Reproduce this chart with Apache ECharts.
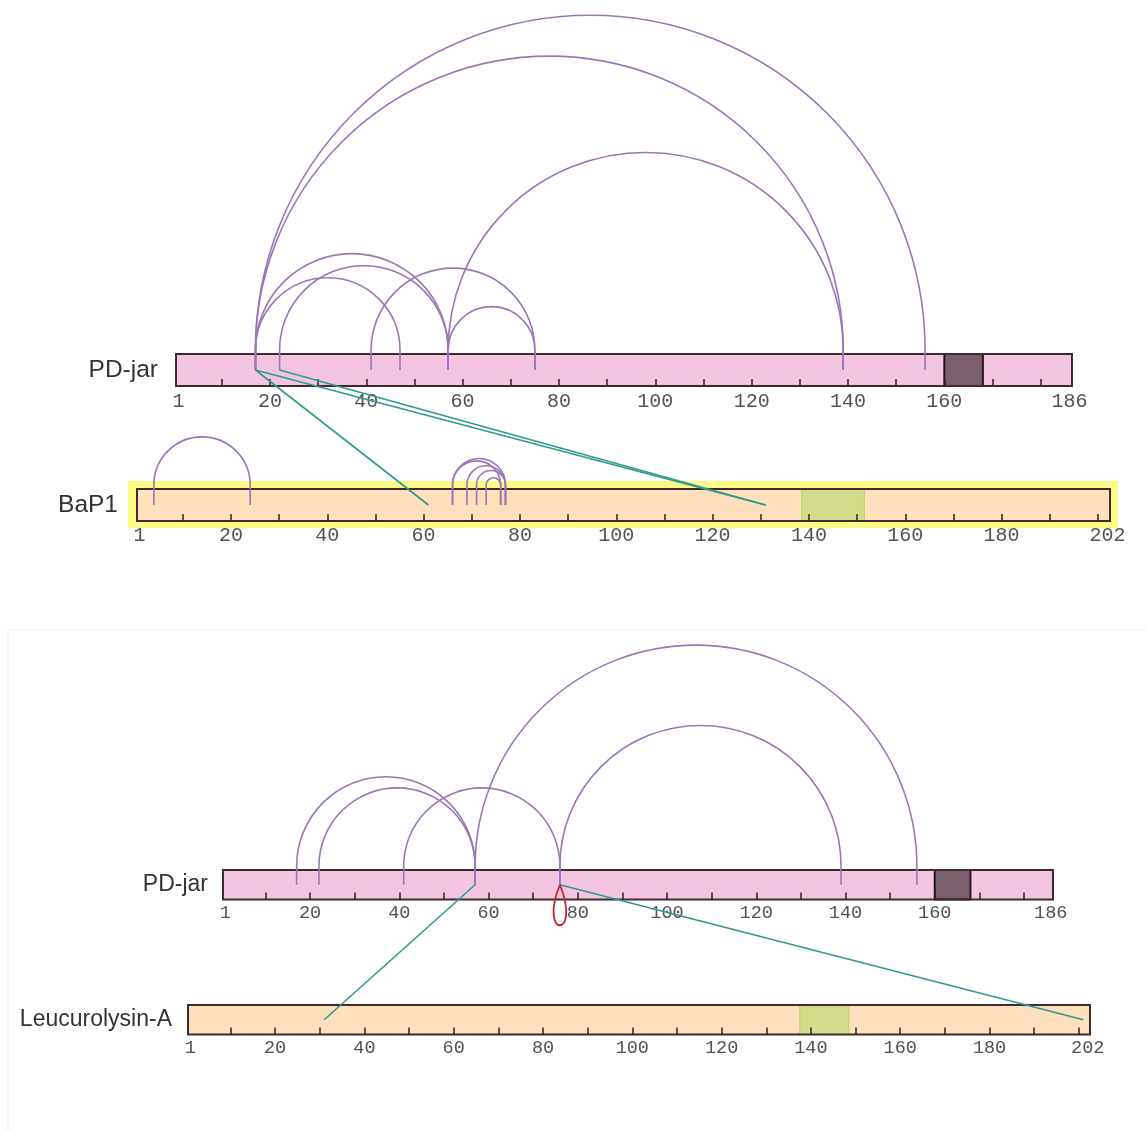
<!DOCTYPE html>
<html><head><meta charset="utf-8">
<script src="https://cdn.jsdelivr.net/npm/echarts@6/dist/echarts.min.js"></script>
<style>html,body{margin:0;padding:0;background:#fff}#c{width:1146px;height:1131px}</style>
</head><body><div id="c"></div>
<script>
// ---------------- data ----------------
const proteins = ['PD-jar', 'BaP1', 'PD-jar', 'Leucurolysin-A'];
const proteinLengths = [186, 202, 186, 202];
const highlighted = [false, true, false, false];
const domainRanges = [[[160, 168]], [[138.5, 151.5]], [[160, 168]], [[137.5, 148.5]]];
const domainKinds = [['dark'], ['green'], ['dark'], ['green']];
// intra-protein links [residueA, residueB]
const selfLinksTopPD = [[17, 156], [17, 139], [57, 139], [17, 57], [22, 57], [17, 47], [41, 75], [57, 75]];
const selfLinksBaP1 = [[4, 24], [66, 77], [66, 76], [69, 77], [71, 77], [73, 76]];
const selfLinksBottomPD = [[17, 57], [22, 57], [41, 76], [57, 156], [76, 139]];
const selfLinksLeuc = [];
const selfLinks = [selfLinksTopPD, selfLinksBaP1, selfLinksBottomPD, selfLinksLeuc];
// inter-protein links [fromBar, residue, toBar, residue]
const crossLinks = [[0, 17, 1, 61], [0, 17, 1, 131], [0, 22, 1, 131], [2, 57, 3, 31], [2, 76, 3, 201]];
// same-residue (homomeric) loops [bar, residue]
const selfLoops = [[2, 76]];
// axis labels / ticks
const labelsPD = [1, 20, 40, 60, 80, 100, 120, 140, 160, 186];
const labels202 = [1, 20, 40, 60, 80, 100, 120, 140, 160, 180, 202];
const ticksPD = [10, 20, 30, 40, 50, 60, 70, 80, 90, 100, 110, 120, 130, 140, 150, 160, 170, 180];
const ticks202 = [10, 20, 30, 40, 50, 60, 70, 80, 90, 100, 110, 120, 130, 140, 150, 160, 170, 180, 190, 200];
const tickLabels = [labelsPD, labels202, labelsPD, labels202];
const tickMarks = [ticksPD, ticks202, ticksPD, ticks202];

// ---------------- layout & style ----------------
const layout = [
  {left: 176, top: 354, width: 896, height: 32, font: 24.5, tickFont: 20, gap: 18, margin: 5.5, base: 4},
  {left: 137, top: 489, width: 973, height: 32, font: 24.5, tickFont: 20, gap: 19, margin: 5, base: 4},
  {left: 223, top: 870, width: 830, height: 29.5, font: 23, tickFont: 18.5, gap: 15, margin: 4, base: 4},
  {left: 188, top: 1005, width: 902, height: 29.5, font: 23, tickFont: 18.5, gap: 16, margin: 4, base: 4}
];
const barFill = ['#f3c5e1', '#fddfbb', '#f3c5e1', '#fddfbb'];
const domainStyle = {
  dark: {fill: '#7a5f6c', stroke: '#24161c', lineWidth: 2},
  green: {fill: '#d3dc8a', stroke: '#b3d46a', lineWidth: 1}
};
const ARC = '#9a76b6', TEAL = '#2f9a8e', LOOP = '#c0262d', BORDER = '#3d2b30';

const chart = echarts.init(document.getElementById('c'), null, {renderer: 'canvas'});

const grids = [], xAxes = [], yAxes = [], series = [];
layout.forEach((L, k) => {
  grids.push({left: L.left, top: L.top, width: L.width, height: L.height, containLabel: false});
  xAxes.push({
    type: 'value', gridIndex: k, min: 0.5, max: proteinLengths[k] + 0.5, z: 3, position: 'bottom',
    splitLine: {show: false}, axisLine: {show: false, onZero: false},
    axisTick: {show: true, inside: true, length: 7, customValues: tickMarks[k], lineStyle: {color: '#2e2226', width: 1.5}},
    axisLabel: {show: true, customValues: tickLabels[k], margin: L.margin, fontFamily: 'Liberation Mono', fontSize: L.tickFont, color: '#525252'}
  });
  yAxes.push({type: 'value', gridIndex: k, min: -1, max: 1, show: false});

  // protein bar, highlight, domains, name
  series.push({
    type: 'custom', xAxisIndex: k, yAxisIndex: k, z: 1, silent: true, clip: false,
    data: [[0.5, proteinLengths[k] + 0.5]],
    renderItem: (params, api) => {
      const a = api.coord([api.value(0), 1]);
      const b = api.coord([api.value(1), -1]);
      const x = a[0], y = a[1], w = b[0] - a[0], h = b[1] - a[1];
      const ch = [];
      if (highlighted[k]) ch.push({type: 'rect', shape: {x: x - 9, y: y - 8, width: w + 17, height: h + 15}, style: {fill: '#fafa84'}});
      ch.push({type: 'rect', shape: {x: x, y: y, width: w, height: h}, style: {fill: barFill[k], stroke: 'none'}});
      domainRanges[k].forEach((d, i) => {
        const p = api.coord([d[0], 1]), q = api.coord([d[1], -1]);
        const s = domainStyle[domainKinds[k][i]];
        ch.push({type: 'rect', shape: {x: p[0], y: p[1], width: q[0] - p[0], height: q[1] - p[1]}, style: {fill: s.fill, stroke: s.stroke, lineWidth: s.lineWidth}});
      });
      ch.push({type: 'rect', shape: {x: x, y: y, width: w, height: h}, style: {fill: 'none', stroke: BORDER, lineWidth: 2}});
      ch.push({type: 'text', style: {text: proteins[k], x: x - L.gap, y: y + h / 2, align: 'right', verticalAlign: 'middle', textAlign: 'right', textVerticalAlign: 'middle', font: L.font + 'px "Liberation Sans", Arial, sans-serif', fill: '#333'}});
      return {type: 'group', children: ch};
    }
  });

  // intra-protein arcs
  series.push({
    type: 'custom', xAxisIndex: k, yAxisIndex: k, z: 6, silent: true, clip: false,
    data: selfLinks[k],
    renderItem: (params, api) => {
      const p1 = api.coord([api.value(0), 0]);
      const p2 = api.coord([api.value(1), 0]);
      const top = api.coord([api.value(0), 1])[1];
      const base = top - L.base;
      const cx = (p1[0] + p2[0]) / 2, r = Math.abs(p2[0] - p1[0]) / 2;
      const st = {stroke: ARC, lineWidth: 1.6, fill: 'none'};
      return {type: 'group', children: [
        {type: 'line', shape: {x1: p1[0], y1: p1[1], x2: p1[0], y2: base}, style: st},
        {type: 'line', shape: {x1: p2[0], y1: p2[1], x2: p2[0], y2: base}, style: st},
        {type: 'arc', shape: {cx: cx, cy: base, r: r, startAngle: Math.PI, endAngle: 2 * Math.PI, clockwise: true}, style: st}
      ]};
    }
  });

  // inter-protein links starting on this bar
  const cl = crossLinks.filter(c => c[0] === k).map(c => [c[1], c[3], c[2]]);
  series.push({
    type: 'custom', xAxisIndex: k, yAxisIndex: k, z: 7, silent: true, clip: false,
    data: cl,
    renderItem: (params, api) => {
      const p1 = api.coord([api.value(0), 0]);
      const t = api.value(2);
      const p2 = chart.convertToPixel({xAxisIndex: t, yAxisIndex: t}, [api.value(1), 0]);
      if (!p2) return null;
      return {type: 'line', shape: {x1: p1[0], y1: p1[1], x2: p2[0], y2: p2[1]}, style: {stroke: TEAL, lineWidth: 1.6}};
    }
  });

  // same-residue loops
  const lp = selfLoops.filter(s => s[0] === k).map(s => [s[1]]);
  series.push({
    type: 'custom', xAxisIndex: k, yAxisIndex: k, z: 7, silent: true, clip: false,
    data: lp,
    renderItem: (params, api) => {
      const p = api.coord([api.value(0), 0]);
      return {type: 'bezierCurve', shape: {x1: p[0], y1: p[1], x2: p[0], y2: p[1], cpx1: p[0] - 22, cpy1: p[1] + 54, cpx2: p[0] + 22, cpy2: p[1] + 54}, style: {stroke: LOOP, lineWidth: 1.8, fill: 'none'}};
    }
  });
});

chart.setOption({
  backgroundColor: '#ffffff',
  animation: false,
  grid: grids,
  xAxis: xAxes,
  yAxis: yAxes,
  graphic: [
    {type: 'line', silent: true, shape: {x1: 8, y1: 630, x2: 1146, y2: 630}, style: {stroke: '#efefef', lineWidth: 1}},
    {type: 'line', silent: true, shape: {x1: 8, y1: 630, x2: 8, y2: 1131}, style: {stroke: '#efefef', lineWidth: 1}}
  ],
  series: series
});
</script></body></html>
